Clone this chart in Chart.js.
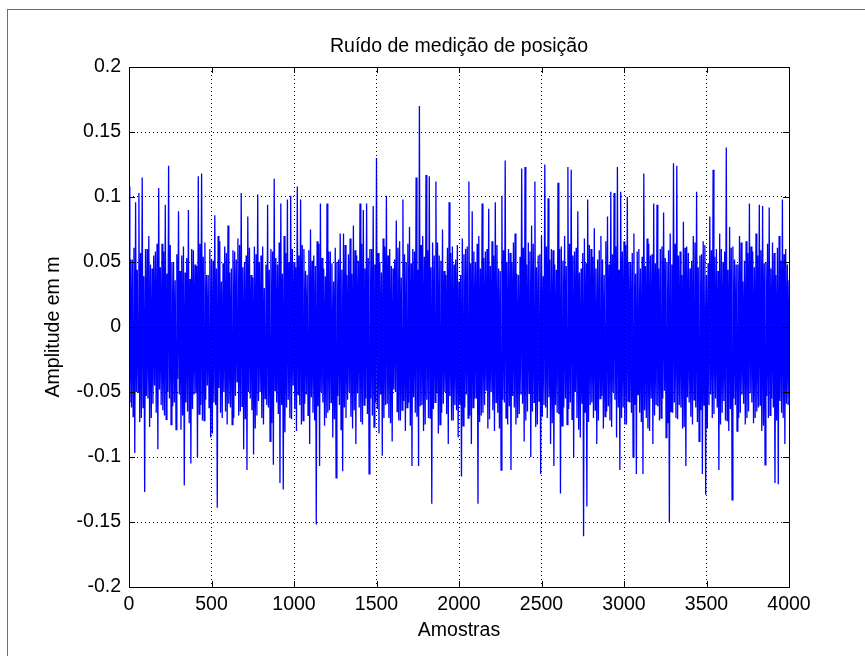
<!DOCTYPE html>
<html>
<head>
<meta charset="utf-8">
<script src="https://cdn.jsdelivr.net/npm/chart.js@4.4.1/dist/chart.umd.min.js"></script>
<style>
    html, body { margin: 0; padding: 0; background: #fff; }
    #wrap { position: relative; width: 865px; height: 656px; overflow: hidden; }
    #ruidoChart { position: absolute; left: 0; top: 0; }
    #moldura { position: absolute; left: 7px; top: 9px; right: 0; bottom: 0;
               border-left: 1px solid #6e6e6e; border-top: 1px solid #6e6e6e; pointer-events: none; }
</style>
</head>
<body>
<div id="wrap">
    <canvas id="ruidoChart" width="865" height="656"></canvas>
    <div id="moldura"></div>
</div>
<script>
// cada bloco de 20 amostras: pico (+0), baixo (+5), alto (+10), vale (+15)
const BLOCO = 20;

// picos positivos, amostras 0, 20, 40 ... 4000
const picos = [
    0.108, 0.052, 0.096, 0.103, 0.115, 0.060, 0.070, 0.045, 0.058, 0.107,
    0.064, 0.094, 0.124, 0.050, 0.036, 0.089, 0.055, 0.042, 0.090, 0.060,
    0.048, 0.116, 0.118, 0.065, 0.040, 0.052, 0.086, 0.070, 0.035, 0.062,
    0.078, 0.045, 0.058, 0.068, 0.103, 0.050, 0.085, 0.040, 0.062, 0.102,
    0.055, 0.030, 0.094, 0.060, 0.114, 0.048, 0.095, 0.070, 0.098, 0.101,
    0.050, 0.108, 0.098, 0.060, 0.040, 0.075, 0.055, 0.066, 0.095, 0.045,
    0.095, 0.058, 0.035, 0.050, 0.072, 0.072, 0.040, 0.068, 0.078, 0.055,
    0.095, 0.090, 0.095, 0.060, 0.093, 0.130, 0.050, 0.068, 0.101, 0.060,
    0.045, 0.082, 0.066, 0.098, 0.050, 0.077, 0.060, 0.115, 0.170, 0.070,
    0.117, 0.116, 0.065, 0.112, 0.055, 0.075, 0.040, 0.096, 0.062, 0.052,
    0.035, 0.068, 0.060, 0.112, 0.089, 0.050, 0.070, 0.095, 0.058, 0.091,
    0.066, 0.096, 0.045, 0.101, 0.128, 0.060, 0.050, 0.072, 0.040, 0.122,
    0.123, 0.065, 0.078, 0.112, 0.055, 0.070, 0.125, 0.099, 0.060, 0.048,
    0.111, 0.062, 0.070, 0.123, 0.121, 0.058, 0.089, 0.045, 0.068, 0.098,
    0.060, 0.076, 0.052, 0.070, 0.040, 0.085, 0.104, 0.103, 0.123, 0.104,
    0.066, 0.100, 0.050, 0.072, 0.058, 0.045, 0.118, 0.068, 0.055, 0.095,
    0.094, 0.060, 0.088, 0.050, 0.072, 0.126, 0.124, 0.058, 0.081, 0.062,
    0.045, 0.070, 0.104, 0.055, 0.066, 0.040, 0.085, 0.121, 0.060, 0.072,
    0.050, 0.138, 0.077, 0.062, 0.048, 0.070, 0.035, 0.066, 0.095, 0.058,
    0.072, 0.094, 0.093, 0.050, 0.092, 0.065, 0.040, 0.070, 0.098, 0.060,
    0.036
];

// nucleo da faixa, parte de baixo, amostras 5, 25, 45 ...
const baixos = [
    -0.058, -0.069, -0.050, -0.073, -0.062, -0.053, -0.077, -0.059, -0.066, -0.048,
    -0.064, -0.071, -0.055, -0.061, -0.079, -0.052, -0.068, -0.058, -0.074, -0.063,
    -0.051, -0.067, -0.072, -0.056, -0.062, -0.082, -0.060, -0.047, -0.070, -0.065,
    -0.059, -0.075, -0.053, -0.068, -0.061, -0.071, -0.050, -0.064, -0.078, -0.057,
    -0.070, -0.055, -0.062, -0.074, -0.049, -0.067, -0.060, -0.081, -0.056, -0.071,
    -0.063, -0.052, -0.075, -0.059, -0.068, -0.054, -0.072, -0.061, -0.050, -0.076,
    -0.066, -0.058, -0.071, -0.053, -0.079, -0.062, -0.056, -0.069, -0.064, -0.051,
    -0.073, -0.060, -0.067, -0.055, -0.077, -0.063, -0.052, -0.070, -0.059, -0.074,
    -0.048, -0.065, -0.072, -0.057, -0.062, -0.076, -0.054, -0.069, -0.061, -0.080,
    -0.056, -0.070, -0.063, -0.051, -0.075, -0.059, -0.067, -0.053, -0.072, -0.064,
    -0.060, -0.076, -0.052, -0.068, -0.062, -0.055, -0.073, -0.066, -0.049, -0.071,
    -0.064, -0.058, -0.078, -0.056, -0.070, -0.061, -0.053, -0.075, -0.067, -0.059,
    -0.072, -0.051, -0.065, -0.077, -0.057, -0.069, -0.062, -0.054, -0.074, -0.060,
    -0.067, -0.076, -0.055, -0.063, -0.071, -0.050, -0.079, -0.059, -0.066, -0.073,
    -0.058, -0.064, -0.072, -0.053, -0.069, -0.061, -0.077, -0.056, -0.062, -0.070,
    -0.075, -0.057, -0.066, -0.060, -0.052, -0.073, -0.064, -0.078, -0.055, -0.068,
    -0.061, -0.070, -0.049, -0.074, -0.065, -0.058, -0.071, -0.062, -0.077, -0.054,
    -0.069, -0.056, -0.073, -0.064, -0.060, -0.078, -0.052, -0.067, -0.062, -0.075,
    -0.057, -0.072, -0.063, -0.055, -0.080, -0.066, -0.059, -0.070, -0.051, -0.074,
    -0.065, -0.060, -0.076, -0.053, -0.068, -0.062, -0.072, -0.057, -0.070, -0.059
];

// nucleo da faixa, parte de cima, amostras 10, 30, 50 ...
const altos = [
    0.052, 0.061, 0.044, 0.057, 0.039, 0.060, 0.048, 0.055, 0.064, 0.046,
    0.058, 0.041, 0.063, 0.050, 0.056, 0.043, 0.062, 0.053, 0.037, 0.059,
    0.047, 0.064, 0.054, 0.040, 0.060, 0.051, 0.045, 0.066, 0.049, 0.057,
    0.042, 0.059, 0.052, 0.063, 0.046, 0.055, 0.061, 0.038, 0.056, 0.050,
    0.062, 0.048, 0.044, 0.058, 0.053, 0.065, 0.041, 0.057, 0.050, 0.060,
    0.046, 0.055, 0.063, 0.043, 0.059, 0.051, 0.047, 0.064, 0.053, 0.039,
    0.058, 0.049, 0.061, 0.052, 0.044, 0.063, 0.056, 0.041, 0.059, 0.051,
    0.064, 0.045, 0.053, 0.060, 0.048, 0.057, 0.042, 0.062, 0.055, 0.047,
    0.052, 0.061, 0.038, 0.056, 0.064, 0.049, 0.058, 0.044, 0.063, 0.054,
    0.059, 0.046, 0.055, 0.065, 0.051, 0.043, 0.061, 0.057, 0.048, 0.063,
    0.040, 0.056, 0.062, 0.049, 0.058, 0.064, 0.045, 0.053, 0.060, 0.047,
    0.055, 0.063, 0.043, 0.059, 0.050, 0.057, 0.065, 0.041, 0.054, 0.061,
    0.048, 0.058, 0.064, 0.046, 0.056, 0.039, 0.062, 0.052, 0.059, 0.044,
    0.060, 0.051, 0.047, 0.064, 0.055, 0.061, 0.042, 0.057, 0.049, 0.063,
    0.054, 0.045, 0.059, 0.052, 0.066, 0.048, 0.056, 0.062, 0.044, 0.058,
    0.063, 0.050, 0.057, 0.041, 0.060, 0.054, 0.047, 0.064, 0.056, 0.049,
    0.045, 0.062, 0.053, 0.059, 0.048, 0.064, 0.055, 0.040, 0.061, 0.057,
    0.051, 0.065, 0.046, 0.056, 0.063, 0.049, 0.059, 0.054, 0.043, 0.060,
    0.058, 0.044, 0.061, 0.052, 0.048, 0.065, 0.051, 0.057, 0.062, 0.046,
    0.055, 0.059, 0.049, 0.064, 0.045, 0.057, 0.061, 0.051, 0.056, 0.048
];

// vales negativos, amostras 15, 35, 55 ...
const vales = [
    -0.062, -0.097, -0.050, -0.070, -0.127, -0.055, -0.070, -0.045, -0.094, -0.060,
    -0.068, -0.050, -0.075, -0.058, -0.040, -0.079, -0.122, -0.065, -0.105, -0.052,
    -0.100, -0.060, -0.072, -0.045, -0.085, -0.058, -0.139, -0.066, -0.050, -0.075,
    -0.062, -0.070, -0.042, -0.065, -0.094, -0.110, -0.055, -0.098, -0.068, -0.050,
    -0.075, -0.060, -0.088, -0.106, -0.058, -0.120, -0.125, -0.062, -0.070, -0.045,
    -0.080, -0.060, -0.072, -0.052, -0.090, -0.066, -0.152, -0.107, -0.058, -0.070,
    -0.064, -0.085, -0.116, -0.060, -0.111, -0.070, -0.050, -0.078, -0.090, -0.062,
    -0.075, -0.055, -0.113, -0.068, -0.058, -0.082, -0.099, -0.060, -0.070, -0.088,
    -0.050, -0.072, -0.064, -0.080, -0.058, -0.107, -0.066, -0.107, -0.060, -0.075,
    -0.070, -0.136, -0.058, -0.082, -0.066, -0.050, -0.090, -0.072, -0.060, -0.085,
    -0.115, -0.062, -0.070, -0.090, -0.055, -0.136, -0.068, -0.060, -0.078, -0.050,
    -0.080, -0.066, -0.110, -0.058, -0.075, -0.110, -0.062, -0.070, -0.052, -0.088,
    -0.065, -0.100, -0.058, -0.075, -0.113, -0.060, -0.070, -0.090, -0.107, -0.066,
    -0.128, -0.062, -0.075, -0.058, -0.100, -0.070, -0.085, -0.161, -0.138, -0.060,
    -0.070, -0.090, -0.055, -0.078, -0.065, -0.072, -0.050, -0.085, -0.110, -0.062,
    -0.075, -0.058, -0.100, -0.113, -0.066, -0.113, -0.070, -0.080, -0.090, -0.060,
    -0.072, -0.055, -0.085, -0.150, -0.066, -0.070, -0.060, -0.078, -0.107, -0.058,
    -0.075, -0.062, -0.088, -0.113, -0.129, -0.060, -0.070, -0.055, -0.110, -0.066,
    -0.072, -0.080, -0.133, -0.060, -0.070, -0.052, -0.075, -0.065, -0.058, -0.070,
    -0.062, -0.080, -0.106, -0.070, -0.055, -0.120, -0.121, -0.066, -0.090, -0.060
];

const ticksX = [0, 500, 1000, 1500, 2000, 2500, 3000, 3500, 4000];
const ticksY = [-0.2, -0.15, -0.1, -0.05, 0, 0.05, 0.1, 0.15, 0.2];

const FONTE = "'Liberation Sans', Arial, sans-serif";
const TAM = 19.5;

function montaPontos() {
    const pontos = [];
    for (let i = 0; i < vales.length; i++) {
        const a = i * BLOCO;
        pontos.push({ x: a, y: picos[i] });
        pontos.push({ x: a + 5, y: baixos[i] });
        pontos.push({ x: a + 10, y: altos[i] });
        pontos.push({ x: a + 15, y: vales[i] });
    }
    pontos.push({ x: vales.length * BLOCO, y: picos[picos.length - 1] });
    return pontos;
}

// caixa fechada com ticks para dentro, estilo matlab
const moldura = {
    id: "moldura",
    afterDraw(chart) {
        const { ctx, chartArea: a, scales } = chart;
        ctx.save();
        ctx.strokeStyle = "#000";
        ctx.lineWidth = 1;
        ctx.strokeRect(a.left + 0.5, a.top + 0.5, a.right - a.left, a.bottom - a.top);
        ctx.beginPath();
        ticksX.forEach(v => {
            const x = Math.round(scales.x.getPixelForValue(v)) + 0.5;
            ctx.moveTo(x, a.bottom); ctx.lineTo(x, a.bottom - 6);
            ctx.moveTo(x, a.top); ctx.lineTo(x, a.top + 6);
        });
        ticksY.forEach(v => {
            const y = Math.round(scales.y.getPixelForValue(v)) + 0.5;
            ctx.moveTo(a.left, y); ctx.lineTo(a.left + 6, y);
            ctx.moveTo(a.right, y); ctx.lineTo(a.right - 6, y);
        });
        ctx.stroke();
        ctx.restore();
    }
};

Chart.defaults.font.family = FONTE;
Chart.defaults.color = "#000";

new Chart(document.getElementById("ruidoChart"), {
    type: "line",
    data: {
        datasets: [{
            data: montaPontos(),
            borderColor: "#0000ff",
            borderWidth: 1.3,
            pointRadius: 0,
            tension: 0,
            fill: false
        }]
    },
    options: {
        responsive: false,
        animation: false,
        layout: { padding: { left: 0, right: 76, top: 0, bottom: 0 } },
        plugins: {
            legend: { display: false },
            tooltip: { enabled: false },
            title: {
                display: true,
                fullSize: false,
                text: "Ruído de medição de posição",
                color: "#000",
                font: { size: TAM, weight: "normal" },
                padding: { top: 35, bottom: 8.6 }
            }
        },
        scales: {
            x: {
                type: "linear",
                min: 0,
                max: 4000,
                afterBuildTicks: s => { s.ticks = ticksX.map(v => ({ value: v })); },
                afterFit: s => { s.height = 69; },
                ticks: { autoSkip: false, maxRotation: 0, padding: 6, font: { size: TAM }, callback: v => String(v) },
                grid: { color: "#000", lineWidth: 1, drawTicks: false, z: 1 },
                border: { display: false, dash: [1, 3] },
                title: { display: true, text: "Amostras", font: { size: TAM }, padding: { top: 0, bottom: 14 } }
            },
            y: {
                min: -0.2,
                max: 0.2,
                afterBuildTicks: s => { s.ticks = ticksY.map(v => ({ value: v })); },
                afterFit: s => { s.width = 129; },
                ticks: { padding: 8, font: { size: TAM }, callback: v => String(v) },
                grid: { color: "#000", lineWidth: 1, drawTicks: false, z: 1 },
                border: { display: false, dash: [1, 3] },
                title: { display: true, text: "Amplitude em m", font: { size: TAM }, padding: { top: 42, bottom: 0 } }
            }
        }
    },
    plugins: [moldura]
});
</script>
</body>
</html>
